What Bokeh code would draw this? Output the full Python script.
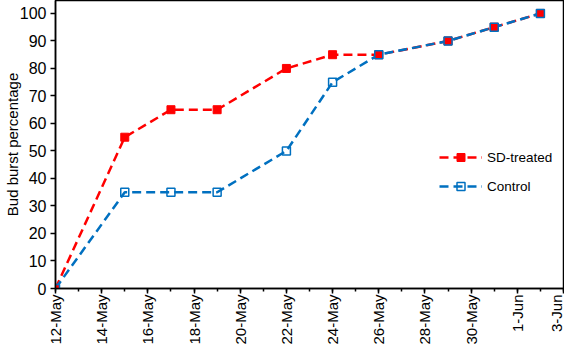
import pandas as pd
from bokeh.plotting import figure
from bokeh.models import (FixedTicker, CustomJSTickFormatter, Legend, LegendItem,
                          Range1d)
from bokeh.embed import file_html
from bokeh.resources import INLINE

# ---- data ----
dates = ["2024-05-12", "2024-05-15", "2024-05-17", "2024-05-19", "2024-05-22",
         "2024-05-24", "2024-05-26", "2024-05-29", "2024-05-31", "2024-06-02"]
sd_treated = [0, 55, 65, 65, 80, 85, 85, 90, 95, 100]
control = [0, 35, 35, 35, 50, 75, 85, 90, 95, 100]
x_start = "2024-05-12"
x_end = "2024-06-03"
tick_labels = ["12-May", "14-May", "16-May", "18-May", "20-May", "22-May",
               "24-May", "26-May", "28-May", "30-May", "1-Jun", "3-Jun"]
y_ticks = [0, 10, 20, 30, 40, 50, 60, 70, 80, 90, 100]

start = pd.Timestamp(x_start)
x = [(pd.Timestamp(d) - start).days for d in dates]
span = (pd.Timestamp(x_end) - start).days
major = list(range(0, span + 1, 2))
minor = list(range(0, span + 1, 1))
label_map = {str(t): lab for t, lab in zip(major, tick_labels)}

FONT = "Liberation Sans"
RED = "#FF0000"
BLUE = "#0070C0"

p = figure(width=564, height=347, output_backend="svg", toolbar_location=None,
           x_range=Range1d(0, span), y_range=Range1d(0, 104.7),
           min_border_left=52, min_border_right=1, min_border_top=0,
           min_border_bottom=10)

p.xgrid.visible = False
p.ygrid.visible = False
p.outline_line_color = "black"
p.outline_line_width = 1.5
p.background_fill_color = "white"
p.border_fill_color = "white"

# x axis
xa = p.xaxis[0]
xa.ticker = FixedTicker(ticks=major, minor_ticks=minor)
xa.formatter = CustomJSTickFormatter(args=dict(labels=label_map),
                                     code="return labels[String(Math.round(tick))] || '';")
xa.major_label_orientation = 1.5707963
xa.major_label_text_font = FONT
xa.major_label_text_font_size = "15px"
xa.major_label_text_color = "black"
xa.major_tick_out = 5
xa.major_tick_in = 0
xa.minor_tick_out = 3
xa.minor_tick_in = 0
xa.axis_line_width = 1.5
xa.major_tick_line_width = 1.5
xa.minor_tick_line_width = 1.5
xa.major_label_standoff = 1

# y axis
ya = p.yaxis[0]
ya.ticker = FixedTicker(ticks=y_ticks, minor_ticks=[])
ya.major_label_text_font = FONT
ya.major_label_text_font_size = "16px"
ya.major_label_text_color = "black"
ya.major_tick_out = 5
ya.major_tick_in = 0
ya.axis_line_width = 1.5
ya.major_tick_line_width = 1.5
ya.major_label_standoff = 4
ya.axis_label = "Bud burst percentage"
ya.axis_label_text_font = FONT
ya.axis_label_text_font_size = "15px"
ya.axis_label_text_font_style = "normal"
ya.axis_label_text_color = "black"
ya.axis_label_standoff = -4

# series
l1 = p.line(x, sd_treated, line_color=RED, line_width=2.5, line_dash="9 5")
l2 = p.line(x, control, line_color=BLUE, line_width=2.5, line_dash="9 5")
s1 = p.scatter(x, sd_treated, marker="square", size=8, fill_color=RED,
               line_color=RED, line_width=1)
s2 = p.scatter(x, control, marker="square", size=8, fill_alpha=0,
               line_color=BLUE, line_width=1.5)

legend = Legend(items=[LegendItem(label="SD-treated", renderers=[l1, s1]),
                       LegendItem(label="Control", renderers=[l2, s2])],
                location=(384, 92), padding=0, margin=0, spacing=9,
                glyph_width=43, glyph_height=20, label_standoff=5,
                label_text_font=FONT, label_text_font_size="13.5px",
                label_text_color="black", border_line_alpha=0,
                background_fill_alpha=0)
p.add_layout(legend)

open("out.html", "w").write(file_html(p, INLINE))
